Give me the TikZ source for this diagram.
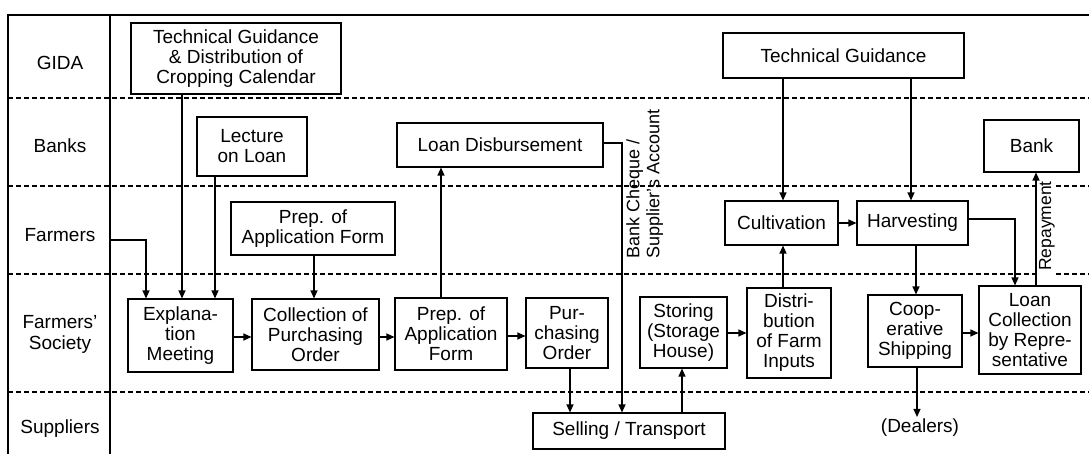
\documentclass[tikz,border=0pt]{standalone}
\usepackage{fontspec}
\setmainfont{Liberation Sans}
\usetikzlibrary{arrows.meta}
\begin{document}
\begin{tikzpicture}[x=1pt,y=-1pt,
  box/.style={draw, line width=1.1pt, align=center, inner sep=0pt, font=\fontsize{19}{20}\selectfont},
  sz/.style 2 args={minimum width=#1pt, minimum height=#2pt},
  lbl/.style={align=center, inner sep=0pt, font=\fontsize{19}{21}\selectfont},
  arr/.style={line width=1.2pt, -{Triangle[length=8pt,width=7pt]}},
  lane/.style={line width=1.1pt, dash pattern=on 5pt off 3pt},
  frame/.style={line width=1.8pt},
  rot/.style={rotate=90, align=left, inner sep=0pt, font=\fontsize{18}{20}\selectfont}]
\useasboundingbox (0,0) rectangle (1089,454);
% frame
\draw[frame] (1089,15) -- (8,15) -- (8,454);
\draw[frame] (110,15) -- (110,454);
\foreach \yy in {98,186,274,392} \draw[lane] (8,\yy) -- (1089,\yy);
% lane labels
\node[lbl] (lgida) at (60,63) {GIDA};
\node[lbl] (lbanks) at (60,146) {Banks};
\node[lbl] (lfarm) at (60,235) {Farmers};
\node[lbl] (lsoc) at (60,334) {Farmers'\\Society};
\node[lbl] (lsup) at (60,429) {Suppliers};
% boxes
\node[box, sz={210}{71}] (tgd) at (236,58.5) {Technical Guidance\\\& Distribution of\\Cropping Calendar};
\node[box, sz={110}{59}] (lec) at (252,146.5) {Lecture\\on Loan};
\node[box, sz={164}{53}] (prepF) at (313,228.5) {Prep. of\\Application Form};
\node[box, sz={105}{73}] (expl) at (180.5,335.5) {Explana-\\tion\\Meeting};
\node[box, sz={127}{71}] (coll) at (315.5,334.5) {Collection of\\Purchasing\\Order};
\node[box, sz={112}{72}] (prepS) at (451,334) {Prep. of\\Application\\Form};
\node[box, sz={82}{70}] (purch) at (567,333) {Pur-\\chasing\\Order};
\node[box, sz={87}{71}] (stor) at (683.5,332.5) {Storing\\(Storage\\House)};
\node[box, sz={192}{36}] (sell) at (629,431) {Selling / Transport};
\node[box, sz={206}{44}] (loan) at (500,145) {Loan Disbursement};
\node[box, sz={241}{45}] (tg) at (843.5,55.5) {Technical Guidance};
\node[box, sz={95}{52}] (bank) at (1031.5,146) {Bank};
\node[box, sz={113}{44}] (cult) at (781.5,223) {Cultivation};
\node[box, sz={111}{44}] (harv) at (912.5,223) {Harvesting};
\node[box, sz={84}{90}] (dist) at (789,333) {Distri-\\bution\\of Farm\\Inputs};
\node[box, sz={94}{72}] (coop) at (915,331) {Coop-\\erative\\Shipping};
\node[box, sz={102}{88}] (lcoll) at (1030,330) {Loan\\Collection\\by Repre-\\sentative};
\node[lbl, inner sep=2pt] (dealers) at (920,428) {(Dealers)};
% rotated labels
\node[rot, anchor=north west] (cheque) at (626,259) {Bank Cheque /\\Supplier's Account};
\node[rot, fill=white, inner xsep=8pt, inner ysep=1pt, font=\fontsize{17.5}{20}\selectfont] (repay) at (1047,226) {Repayment};
% connectors
\coordinate (fstart) at (111,240);
\draw[arr] (fstart) -| (expl.north -| 146,0);
\draw[arr] (tgd.south -| 182,0) -- (expl.north -| 182,0);
\draw[arr] (lec.south -| 215,0) -- (expl.north -| 215,0);
\draw[arr] (prepF.south -| 314,0) -- (coll.north -| 314,0);
\draw[arr] (expl.east |- 0,337) -- (coll.west |- 0,337);
\draw[arr] (coll.east |- 0,337) -- (prepS.west |- 0,337);
\draw[arr] (prepS.east |- 0,336) -- (purch.west |- 0,336);
\draw[arr] (prepS.north -| 441,0) -- (loan.south -| 441,0);
\draw[arr] (loan.east |- 0,143) -| (sell.north -| 622,0);
\draw[arr] (purch.south -| 570,0) -- (sell.north -| 570,0);
\draw[arr] (sell.north -| 682,0) -- (stor.south -| 682,0);
\draw[arr] (stor.east |- 0,333) -- (dist.west |- 0,333);
\draw[arr] (dist.north -| 783,0) -- (cult.south -| 783,0);
\draw[arr] (tg.south -| 783,0) -- (cult.north -| 783,0);
\draw[arr] (tg.south -| 911,0) -- (harv.north -| 911,0);
\draw[arr] (cult.east |- 0,223) -- (harv.west |- 0,223);
\draw[arr] (harv.east |- 0,219) -| (lcoll.north -| 1015,0);
\draw[arr] (harv.south -| 916,0) -- (coop.north -| 916,0);
\draw[arr] (coop.east |- 0,333) -- (lcoll.west |- 0,333);
\draw[arr] (coop.south -| 917,0) -- (dealers.north -| 917,0);
\draw[arr] (lcoll.north -| 1036,0) -- (bank.south -| 1036,0);
\end{tikzpicture}
\end{document}
